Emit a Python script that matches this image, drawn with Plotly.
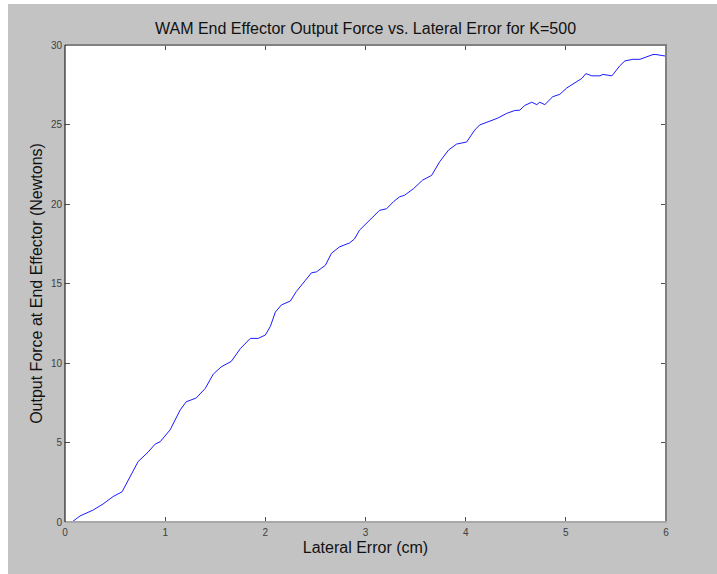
import plotly.graph_objects as go

# Lateral error (cm) and measured end-effector force (N)
lateral_error = [
    0.00, 0.07, 0.15, 0.28, 0.38, 0.48, 0.57, 0.65, 0.73, 0.83, 0.90, 0.95,
    1.05, 1.15, 1.21, 1.31, 1.40, 1.48, 1.56, 1.66, 1.75, 1.85, 1.93, 2.00,
    2.05, 2.10, 2.16, 2.25, 2.31, 2.40, 2.46, 2.51, 2.60, 2.66, 2.74, 2.84,
    2.89, 2.94, 3.03, 3.08, 3.14, 3.21, 3.28, 3.34, 3.39, 3.48, 3.57, 3.66,
    3.74, 3.83, 3.91, 4.01, 4.09, 4.14, 4.24, 4.32, 4.41, 4.49, 4.54, 4.59,
    4.66, 4.71, 4.74, 4.79, 4.87, 4.94, 5.01, 5.09, 5.16, 5.20, 5.26, 5.34,
    5.37, 5.46, 5.49, 5.54, 5.59, 5.67, 5.74, 5.79, 5.87, 5.90, 5.99, 6.00,
]
output_force = [
    0.00, 0.00, 0.38, 0.75, 1.13, 1.60, 1.90, 2.85, 3.80, 4.40, 4.90, 5.05,
    5.80, 7.05, 7.56, 7.80, 8.40, 9.30, 9.76, 10.10, 10.90, 11.55, 11.55, 11.76,
    12.30, 13.20, 13.65, 13.90, 14.50, 15.20, 15.67, 15.73, 16.15, 16.90, 17.30, 17.55,
    17.80, 18.35, 18.90, 19.20, 19.60, 19.70, 20.15, 20.45, 20.55, 20.97, 21.50, 21.80,
    22.65, 23.40, 23.77, 23.90, 24.65, 24.97, 25.20, 25.40, 25.70, 25.88, 25.90, 26.20,
    26.40, 26.25, 26.40, 26.25, 26.75, 26.90, 27.30, 27.60, 27.90, 28.20, 28.06, 28.06,
    28.15, 28.06, 28.30, 28.70, 29.00, 29.10, 29.10, 29.20, 29.40, 29.40, 29.30, 29.30,
]

x_ticks = [0, 1, 2, 3, 4, 5, 6]
y_ticks = [0, 5, 10, 15, 20, 25, 30]

W, H = 717, 574
L, R, T, B = 65, 51, 45, 52
pw, ph = W - L - R, H - T - B

FONT = "Liberation Sans, Arial, sans-serif"
GRAY = "#c3c3c3"

fig = go.Figure(
    go.Scatter(
        x=lateral_error,
        y=output_force,
        mode="lines",
        line=dict(color="#1a1aff", width=1),
        hoverinfo="x+y",
    )
)

axis_common = dict(
    showgrid=False,
    zeroline=False,
    showline=False,
    ticks="inside",
    ticklen=5,
    tickwidth=1,
    tickcolor="#505050",
    mirror="ticks",
    tickfont=dict(family=FONT, size=10, color="#404040"),
    title_font=dict(family=FONT, size=16, color="#111111"),
)

fig.update_xaxes(
    range=[0, 6], tickvals=x_ticks, ticktext=[str(v) for v in x_ticks],
    ticklabelstandoff=3,
    title_text="Lateral Error (cm)", title_standoff=4, **axis_common,
)
fig.update_yaxes(
    range=[0, 30], tickvals=y_ticks, ticktext=[str(v) for v in y_ticks],
    ticklabelstandoff=2,
    title_text="Output Force at End Effector (Newtons)", title_standoff=4,
    **axis_common,
)

# white strips along the left and top edges of the figure window
px_x = 1.0 / pw
px_y = 1.0 / ph
shapes = [
    dict(type="rect", xref="paper", yref="paper", layer="below",
         x0=-L * px_x - 0.01, x1=(8 - L) * px_x, y0=-0.2, y1=1.2,
         fillcolor="white", line=dict(width=0)),
    dict(type="rect", xref="paper", yref="paper", layer="below",
         x0=-0.2, x1=1.2, y0=1 + (T - 4) * px_y, y1=1.2,
         fillcolor="white", line=dict(width=0)),
    # axes box: dark left edge, shaded top/right/bottom edges
    dict(type="line", xref="paper", yref="paper", x0=1, x1=1, y0=-1 * px_y, y1=1,
         line=dict(color="#808080", width=2)),
    dict(type="line", xref="paper", yref="paper", x0=0, x1=1 + 1 * px_x, y0=0, y1=0,
         line=dict(color="#a8a8a8", width=2)),
    dict(type="line", xref="paper", yref="paper", x0=0, x1=1 + 1 * px_x, y0=1, y1=1,
         line=dict(color="#808080", width=2)),
    dict(type="line", xref="paper", yref="paper", x0=0, x1=0, y0=0, y1=1,
         line=dict(color="#000000", width=1)),
]

fig.update_layout(
    width=W, height=H,
    margin=dict(l=L, r=R, t=T, b=B),
    paper_bgcolor=GRAY,
    plot_bgcolor="white",
    showlegend=False,
    shapes=shapes,
    title=dict(
        text="WAM End Effector Output Force vs. Lateral Error for K=500",
        x=0.5, xanchor="center", xref="paper",
        y=1 - 28 / H, yanchor="middle",
        font=dict(family=FONT, size=16, color="#111111"),
    ),
)

fig.write_html("out.html")
